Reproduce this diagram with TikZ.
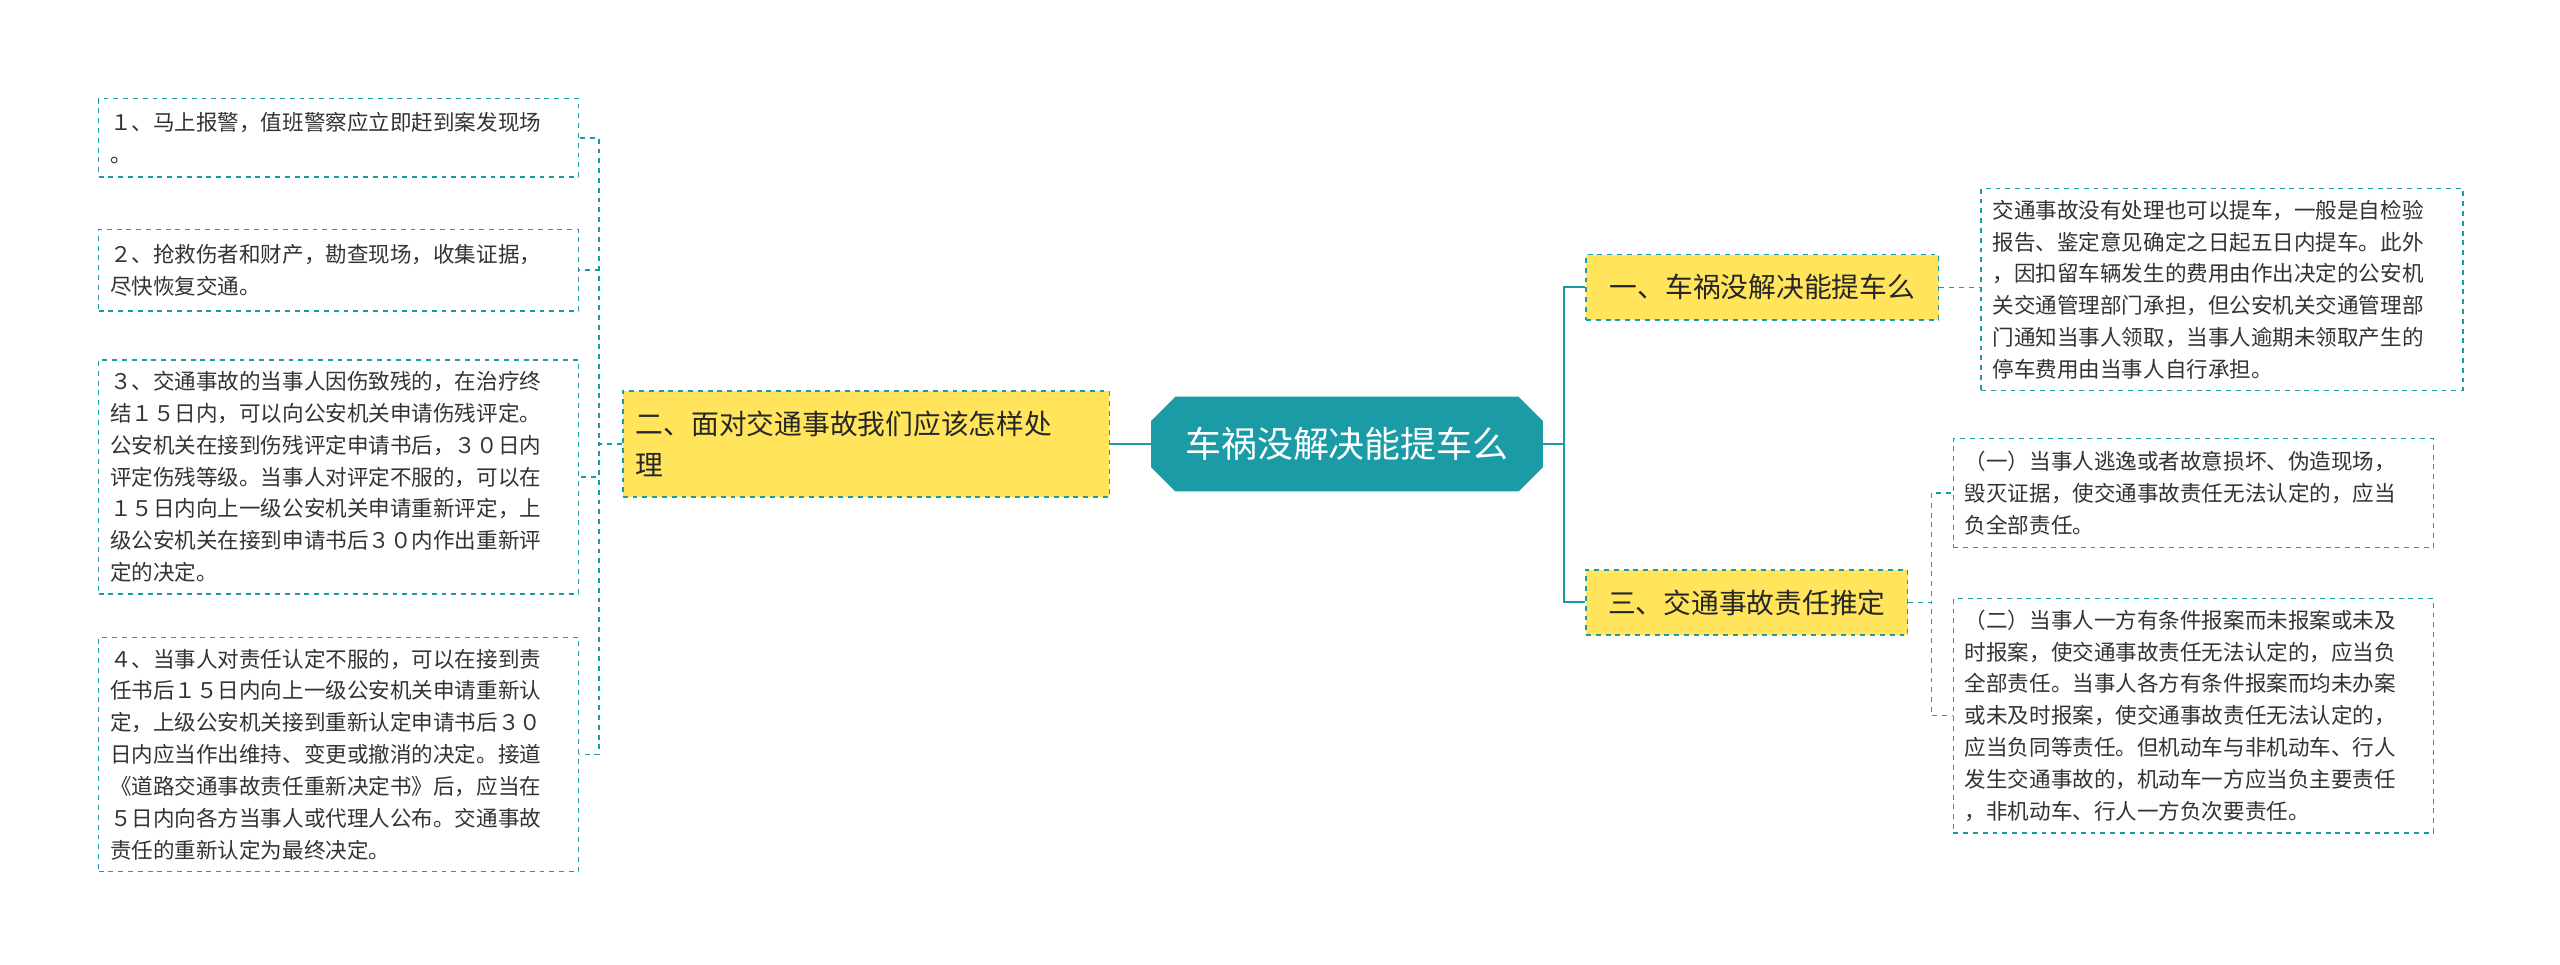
\documentclass[tikz,border=0pt]{standalone}
\usepackage{fontspec}
\newfontfamily\cjk{Noto Sans CJK SC}
\usetikzlibrary{shapes.misc}
\definecolor{teal1}{HTML}{1A9BA6}
\definecolor{yel}{HTML}{FFE45C}
\tikzset{
 x=1pt,y=-1pt,
 leaf/.style={draw=teal1,dashed,fill=white,line width=0.9pt,align=left,anchor=north west,inner sep=7pt,font=\cjk\fontsize{13.2}{19.5}\selectfont,text=black!80},
 branch/.style={draw=teal1,dashed,fill=yel,line width=0.9pt,align=left,inner sep=8pt,font=\cjk\fontsize{17}{25}\selectfont,text=black!85},
 con/.style={teal1,line width=1.2pt},
 dcon/.style={teal1,line width=0.9pt,dashed},
}
\begin{document}
\begin{tikzpicture}
\useasboundingbox (0,0) rectangle (1568,591);
\node[chamfered rectangle,chamfered rectangle xsep=12pt,fill=teal1,text=white,font=\cjk\fontsize{22}{26}\selectfont,minimum width=240pt,minimum height=58pt,inner sep=4pt] (c) at (825,272) {车祸没解决能提车么};
\node[branch,anchor=west,minimum height=65pt,text width=282pt] (b2) at (381,272) {二、面对交通事故我们应该怎样处\\理};
\node[branch,anchor=west,minimum height=40pt,minimum width=216pt,align=center] (b1) at (971,176) {一、车祸没解决能提车么};
\node[branch,anchor=west,minimum height=40pt,minimum width=197pt,align=center] (b3) at (971,369) {三、交通事故责任推定};
% left leaves
\node[leaf,text width=280pt,minimum height=48pt] (l1) at (60,60) {１、马上报警，值班警察应立即赶到案发现场\\。};
\node[leaf,text width=280pt,minimum height=50pt] (l2) at (60,140) {２、抢救伤者和财产，勘查现场，收集证据，\\尽快恢复交通。};
\node[leaf,text width=280pt,minimum height=140pt] (l3) at (60,220) {３、交通事故的当事人因伤致残的，在治疗终\\结１５日内，可以向公安机关申请伤残评定。\\公安机关在接到伤残评定申请书后，３０日内\\评定伤残等级。当事人对评定不服的，可以在\\１５日内向上一级公安机关申请重新评定，上\\级公安机关在接到申请书后３０内作出重新评\\定的决定。};
\node[leaf,text width=280pt,minimum height=140pt] (l4) at (60,390) {４、当事人对责任认定不服的，可以在接到责\\任书后１５日内向上一级公安机关申请重新认\\定，上级公安机关接到重新认定申请书后３０\\日内应当作出维持、变更或撤消的决定。接道\\《道路交通事故责任重新决定书》后，应当在\\５日内向各方当事人或代理人公布。交通事故\\责任的重新认定为最终决定。};
% right leaves
\node[leaf,text width=281pt,minimum height=123pt] (r1) at (1213,115) {交通事故没有处理也可以提车，一般是自检验\\报告、鉴定意见确定之日起五日内提车。此外\\，因扣留车辆发生的费用由作出决定的公安机\\关交通管理部门承担，但公安机关交通管理部\\门通知当事人领取，当事人逾期未领取产生的\\停车费用由当事人自行承担。};
\node[leaf,text width=280pt,minimum height=67pt] (r2) at (1196,268) {（一）当事人逃逸或者故意损坏、伪造现场，\\毁灭证据，使交通事故责任无法认定的，应当\\负全部责任。};
\node[leaf,text width=280pt,minimum height=140pt] (r3) at (1196,366) {（二）当事人一方有条件报案而未报案或未及\\时报案，使交通事故责任无法认定的，应当负\\全部责任。当事人各方有条件报案而均未办案\\或未及时报案，使交通事故责任无法认定的，\\应当负同等责任。但机动车与非机动车、行人\\发生交通事故的，机动车一方应当负主要责任\\，非机动车、行人一方负次要责任。};
% connectors
\draw[con] (c.west) -- (b2.east);
\draw[con] (c.east) -- ++(13,0) |- (b1.west);
\draw[con] (c.east) -- ++(13,0) |- (b3.west);
\draw[dcon] (b2.west) -- ++(-14,0) |- (l1.east);
\draw[dcon] (b2.west) -- ++(-14,0) |- (l2.east);
\draw[dcon] (b2.west) -- ++(-14,0) |- (l3.east);
\draw[dcon] (b2.west) -- ++(-14,0) |- (l4.east);
\draw[dcon] (b1.east) -- (r1.west |- b1.east);
\draw[dcon] (b3.east) -- ++(14,0) |- (r2.west);
\draw[dcon] (b3.east) -- ++(14,0) |- (r3.west);
\end{tikzpicture}
\end{document}
